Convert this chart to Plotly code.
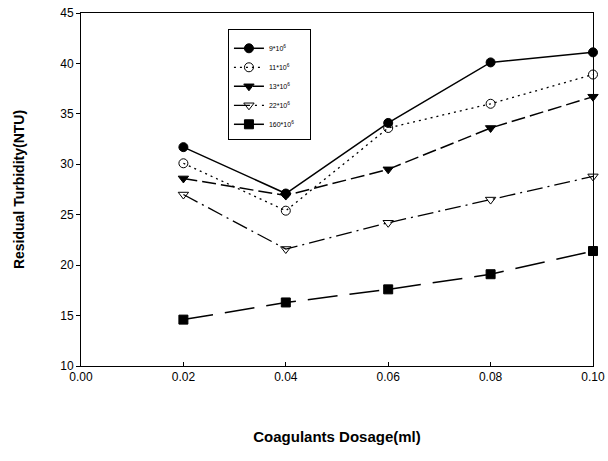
import plotly.graph_objects as go

dosage = [0.02, 0.04, 0.06, 0.08, 0.10]
names = ["9*10<sup>6</sup>", "11*10<sup>6</sup>", "13*10<sup>6</sup>", "22*10<sup>6</sup>",
         "160*10<sup>6</sup>\u2003\u2002"]
s1 = [31.7, 27.1, 34.1, 40.1, 41.1]
s2 = [30.1, 25.4, 33.6, 36.0, 38.9]
s3 = [28.6, 26.9, 29.5, 33.6, 36.7]
s4 = [27.0, 21.6, 24.2, 26.5, 28.8]
s5 = [14.6, 16.3, 17.6, 19.1, 21.4]
series = [s1, s2, s3, s4, s5]

symbols = ["circle", "circle-open", "triangle-down", "triangle-down-open", "square"]
dashes = ["solid", "2px,4px", "14px,5px", "16px,5px,2px,5px", "30px,12px"]
widths = [1.5, 1.3, 1.5, 1.3, 1.5]

fig = go.Figure()
for n, ys, sym, d, w in zip(names, series, symbols, dashes, widths):
    fig.add_trace(go.Scatter(
        x=dosage, y=ys, name=n, mode="lines+markers",
        line=dict(color="black", width=w, dash=d),
        marker=dict(symbol=sym, size=9, color="black", line=dict(color="black", width=1)),
        cliponaxis=False,
    ))

fig.update_layout(
    width=608, height=461,
    margin=dict(l=81, r=15, t=13, b=95),
    paper_bgcolor="white", plot_bgcolor="white",
    font=dict(family="Liberation Sans, Arial, sans-serif", color="black", size=12),
    showlegend=True,
    legend=dict(
        x=0.287, y=0.955, xanchor="left", yanchor="top",
        bordercolor="black", borderwidth=1, bgcolor="white",
        font=dict(size=7), tracegroupgap=0, itemwidth=30,
        title=dict(text=" ", font=dict(size=3)),
    ),
    xaxis=dict(
        range=[0, 0.1], tickvals=[0, 0.02, 0.04, 0.06, 0.08, 0.10],
        ticktext=["0.00", "0.02", "0.04", "0.06", "0.08", "0.10"],
        showgrid=False, zeroline=False, showline=True, linecolor="black", linewidth=1,
        mirror=True, ticks="inside", ticklen=4, tickcolor="black", automargin=False,
        ticklabeloverflow="allow",
        title=dict(text="<b>Coagulants Dosage(ml)</b>", font=dict(size=15), standoff=48),
        tickfont=dict(size=12),
    ),
    yaxis=dict(
        range=[10, 45], tickvals=[10, 15, 20, 25, 30, 35, 40, 45],
        showgrid=False, zeroline=False, showline=True, linecolor="black", linewidth=1,
        mirror=True, ticks="outside", ticklen=4, tickcolor="black", automargin=False,
        ticklabeloverflow="allow",
        title=dict(text="<b>Residual Turbidity(NTU)</b>", font=dict(size=14), standoff=32),
        tickfont=dict(size=12),
    ),
)

# remove the default 8px page margin so the 608x461 figure fills the window
fig.write_html("out.html",
               config={"displayModeBar": False},
               post_script="document.body.style.margin='0';document.body.style.overflow='hidden';")
